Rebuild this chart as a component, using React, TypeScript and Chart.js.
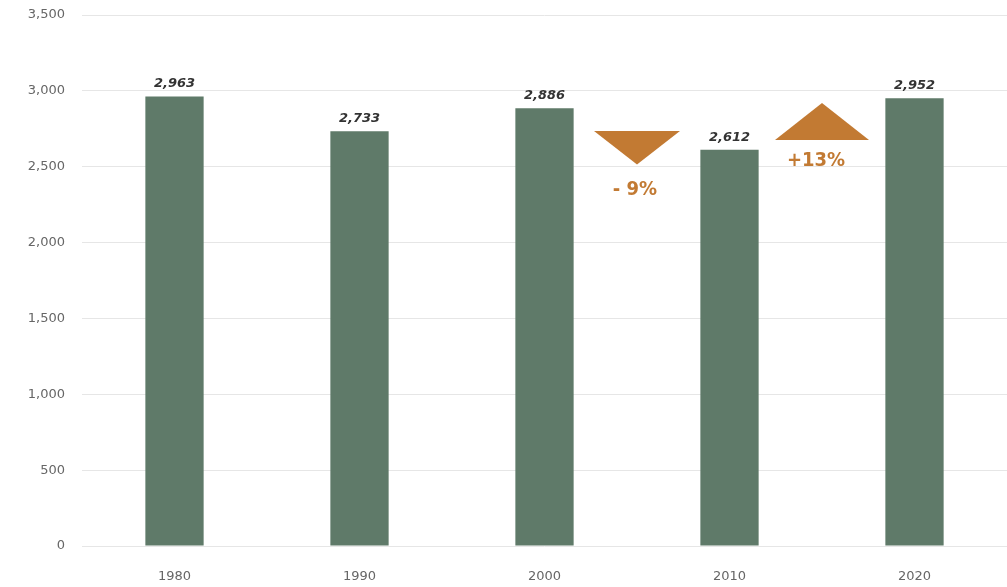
import React, { useEffect, useRef } from "react";
import { Chart, registerables } from "chart.js";

Chart.register(...registerables);

const years = ["1980", "1990", "2000", "2010", "2020"];
const values = [2963, 2733, 2886, 2612, 2952];
const yTicks = [0, 500, 1000, 1500, 2000, 2500, 3000, 3500];

// change annotations between consecutive decades
const changeFromIndex = [2, 3];
const changeLabels = ["- 9%", "+13%"];
const changeDirections = ["down", "up"];

const BAR_COLOR = "#5F7A69";
const ORANGE = "#C27A33";

const changePlugin = {
  id: "changeArrows",
  afterDatasetsDraw(chart: any) {
    const { ctx, scales } = chart;
    const x = scales.x;
    const y = scales.y;
    ctx.save();
    changeFromIndex.forEach((i, k) => {
      const cx = (x.getPixelForValue(i) + x.getPixelForValue(i + 1)) / 2;
      const dir = changeDirections[k];
      ctx.fillStyle = ORANGE;
      ctx.beginPath();
      if (dir === "down") {
        const top = y.getPixelForValue(2735);
        const apex = y.getPixelForValue(2515);
        ctx.moveTo(cx - 43, top);
        ctx.lineTo(cx + 43, top);
        ctx.lineTo(cx, apex);
      } else {
        const base = y.getPixelForValue(2676);
        const apex = y.getPixelForValue(2920);
        ctx.moveTo(cx - 47, base);
        ctx.lineTo(cx + 47, base);
        ctx.lineTo(cx, apex);
      }
      ctx.closePath();
      ctx.fill();
      ctx.font = "bold 20px 'DejaVu Sans Condensed', 'DejaVu Sans', sans-serif";
      ctx.textAlign = "center";
      ctx.textBaseline = "middle";
      const ty = dir === "down" ? y.getPixelForValue(2346) : y.getPixelForValue(2537);
      const tx = dir === "down" ? cx - 2 : cx - 6;
      ctx.fillText(changeLabels[k], tx, ty);
    });
    ctx.restore();
  },
};

const valueLabelPlugin = {
  id: "valueLabels",
  afterDatasetsDraw(chart: any) {
    const { ctx } = chart;
    const meta = chart.getDatasetMeta(0);
    ctx.save();
    ctx.font = "italic bold 13px 'DejaVu Sans', sans-serif";
    ctx.fillStyle = "#333333";
    ctx.textAlign = "center";
    ctx.textBaseline = "bottom";
    meta.data.forEach((bar: any, i: number) => {
      ctx.fillText(values[i].toLocaleString("en-US"), bar.x, bar.y - 6);
    });
    ctx.restore();
  },
};

export default function App() {
  const ref = useRef<HTMLCanvasElement | null>(null);
  useEffect(() => {
    if (!ref.current) return;
    const chart = new Chart(ref.current, {
      type: "bar",
      data: {
        labels: years,
        datasets: [
          {
            data: values,
            backgroundColor: BAR_COLOR,
            barPercentage: 0.315,
            categoryPercentage: 1,
          },
        ],
      },
      options: {
        animation: false,
        responsive: true,
        maintainAspectRatio: false,
        layout: { padding: { top: 15, right: 0, left: 0, bottom: 0 } },
        plugins: { legend: { display: false }, tooltip: { enabled: false } },
        scales: {
          x: {
            grid: { display: false },
            border: { display: false },
            ticks: {
              color: "#666666",
              font: { family: "'DejaVu Sans', sans-serif", size: 13 },
              padding: 15,
            },
            afterFit(axis: any) {
              axis.height = 41;
              axis.paddingLeft = 0;
              axis.paddingRight = 0;
            },
          },
          y: {
            min: 0,
            max: 3500,
            afterBuildTicks(axis: any) {
              axis.ticks = yTicks.map((v) => ({ value: v }));
            },
            grid: { color: "#E6E6E6", drawTicks: false, lineWidth: 1 },
            border: { display: false },
            ticks: {
              color: "#666666",
              font: { family: "'DejaVu Sans', sans-serif", size: 13 },
              padding: 17,
              callback: (v: any) => Number(v).toLocaleString("en-US"),
            },
            afterFit(axis: any) {
              axis.width = 82;
              axis.paddingTop = 0;
              axis.paddingBottom = 0;
            },
          },
        },
      },
      plugins: [valueLabelPlugin, changePlugin],
    });
    return () => chart.destroy();
  }, []);
  return (
    <div style={{ position: "fixed", left: 0, top: 0, width: 1007, height: 587, background: "#fff" }}>
      <canvas ref={ref} />
    </div>
  );
}
